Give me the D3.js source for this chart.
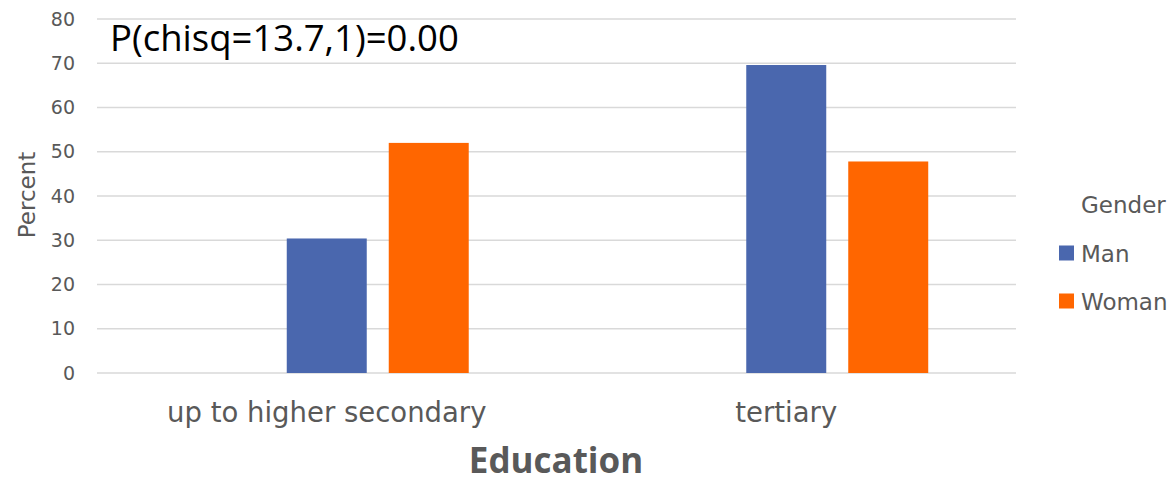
<!DOCTYPE html>
<html>
<head>
<meta charset="utf-8">
<script src="https://cdn.jsdelivr.net/npm/d3@7"></script>
<style>
  html, body { margin: 0; padding: 0; background: #fff; }
  svg { display: block; }
  text { font-family: "DejaVu Sans", sans-serif; }
</style>
</head>
<body>
<div id="chart"></div>
<script>
// ---- data ----
const categories = ["up to higher secondary", "tertiary"];
const seriesSlots = ["(none)", "Man", "Woman"];   // first slot is empty in the original
const legendSeries = ["Man", "Woman"];
const manValues = [30.4, 69.6];
const womanValues = [52.0, 47.8];
const yTicks = [0, 10, 20, 30, 40, 50, 60, 70, 80];
const annotationText = "P(chisq=13.7,1)=0.00";
const xTitle = "Education";
const yTitle = "Percent";
const legendTitle = "Gender";

const colors = { "Man": "#4a67ae", "Woman": "#ff6600" };

const W = 1176, H = 477;
const plot = { left: 97, right: 1016, top: 19, bottom: 373 };

const svg = d3.select("#chart").append("svg").attr("width", W).attr("height", H);

const y = d3.scaleLinear().domain([0, 80]).range([plot.bottom, plot.top]);
const x0 = d3.scaleBand().domain(categories).range([plot.left, plot.right])
  .paddingInner(0.382).paddingOuter(0.191);
const x1 = d3.scaleBand().domain(seriesSlots).range([0, x0.bandwidth()])
  .paddingInner(0.2157).paddingOuter(0);

// gridlines
svg.append("g").selectAll("line").data(yTicks).join("line")
  .attr("x1", plot.left).attr("x2", plot.right)
  .attr("y1", d => y(d)).attr("y2", d => y(d))
  .attr("stroke", "#d9d9d9").attr("stroke-width", 1.5);

// y axis labels
const yAxis = d3.axisLeft(y).tickValues(yTicks).tickSize(0).tickPadding(0);
const gy = svg.append("g").attr("transform", `translate(75,0)`).call(yAxis);
gy.select(".domain").remove();
gy.selectAll("text").attr("fill", "#595959").style("font-size", "19px")
  .style("font-family", '"DejaVu Sans", sans-serif');

// bars
const rows = categories.map((c, i) => ({ cat: c, Man: manValues[i], Woman: womanValues[i] }));
const groups = svg.append("g").selectAll("g").data(rows).join("g")
  .attr("transform", d => `translate(${x0(d.cat)},0)`);
groups.selectAll("rect").data(d => legendSeries.map(k => ({ key: k, value: d[k] }))).join("rect")
  .attr("x", d => x1(d.key))
  .attr("width", x1.bandwidth())
  .attr("y", d => y(d.value))
  .attr("height", d => y(0) - y(d.value))
  .attr("fill", d => colors[d.key]);

// x axis labels
const xAxis = d3.axisBottom(x0).tickSize(0).tickPadding(0);
const gx = svg.append("g").attr("transform", `translate(0,${plot.bottom})`).call(xAxis);
gx.select(".domain").remove();
gx.selectAll("text").attr("fill", "#595959").style("font-size", "27.5px")
  .style("font-family", '"DejaVu Sans", sans-serif')
  .attr("dy", null).attr("y", 49);

// axis titles
svg.append("text").attr("x", 556).attr("y", 473).attr("text-anchor", "middle")
  .attr("fill", "#595959").style("font-size", "35px").style("font-weight", "bold")
  .style("font-family", '"Open Sans", sans-serif')
  .text(xTitle);
svg.append("text").attr("transform", "translate(35,195) rotate(-90)").attr("text-anchor", "middle")
  .attr("fill", "#595959").style("font-size", "23px").text(yTitle);

// annotation
svg.append("text").attr("x", 110).attr("y", 51).attr("fill", "#000")
  .style("font-family", '"Open Sans", sans-serif')
  .style("font-size", "36.5px").text(annotationText);

// legend
const lg = svg.append("g");
lg.append("text").attr("x", 1081).attr("y", 213).attr("fill", "#595959")
  .style("font-size", "23px").text(legendTitle);
const li = lg.selectAll("g.item").data(legendSeries).join("g").attr("class", "item")
  .attr("transform", (d, i) => `translate(1059,${245.5 + i * 48})`);
li.append("rect").attr("width", 15).attr("height", 15).attr("fill", d => colors[d]);
li.append("text").attr("x", 22).attr("y", 16).attr("fill", "#595959")
  .style("font-size", "23px").text(d => d);
</script>
</body>
</html>
